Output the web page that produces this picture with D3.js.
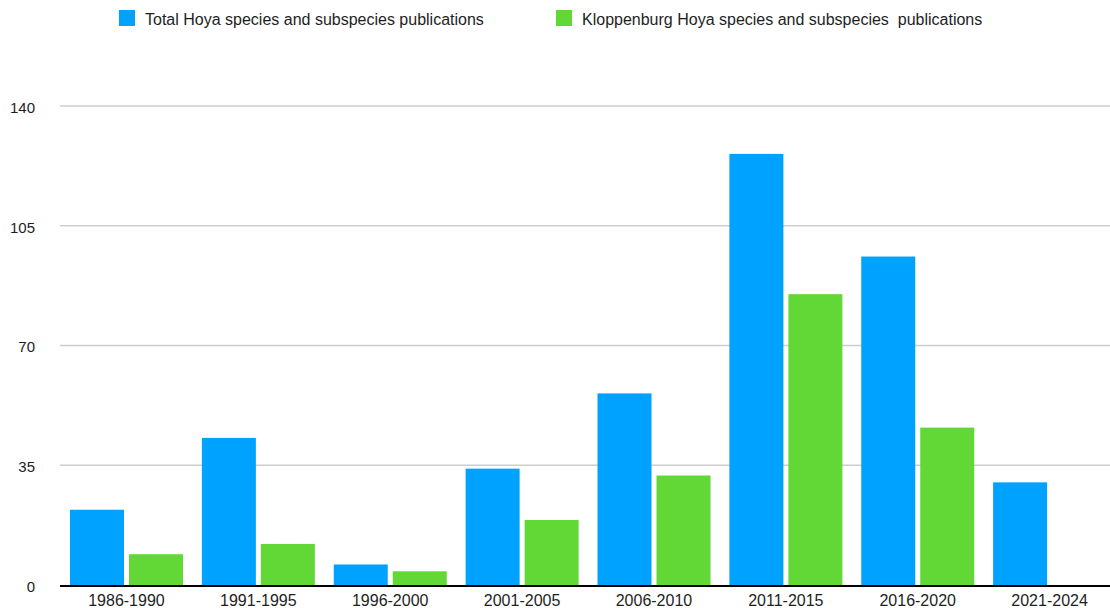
<!DOCTYPE html>
<html>
<head>
<meta charset="utf-8">
<script src="https://cdn.jsdelivr.net/npm/d3@7"></script>
<style>
  html, body { margin: 0; padding: 0; background: #fff; }
  svg { display: block; font-family: "Liberation Sans", Arial, Helvetica, sans-serif; }
  text { white-space: pre; }
</style>
</head>
<body>
<svg id="chart" width="1110" height="608"></svg>
<script>
const categories = ["1986-1990", "1991-1995", "1996-2000", "2001-2005", "2006-2010", "2011-2015", "2016-2020", "2021-2024"];
const seriesNames = ["Total Hoya species and subspecies publications", "Kloppenburg Hoya species and subspecies  publications"];
const totalValues = [22, 43, 6, 34, 56, 126, 96, 30];
const kloppenburgValues = [9, 12, 4, 19, 32, 85, 46, 0];
const yTicks = [0, 35, 70, 105, 140];
const colors = ["#00A2FF", "#61D836"];

const svg = d3.select("#chart");
const W = 1110, H = 608;
const plot = { left: 60.5, right: 1115.5, top: 106, bottom: 585 };

const y = d3.scaleLinear().domain([0, 140]).range([plot.bottom, plot.top]);
const x0 = d3.scaleBand().domain(categories).range([plot.left, plot.right]).paddingInner(0).paddingOuter(0);
const x1 = d3.scaleBand().domain([0, 1]).range([9.5, 9.5 + 113]).paddingInner(5 / 59).paddingOuter(0);

// gridlines
const grid = svg.append("g");
grid.selectAll("line").data(yTicks.filter(d => d > 0)).join("line")
  .attr("x1", 60).attr("x2", W)
  .attr("y1", d => y(d)).attr("y2", d => y(d))
  .attr("stroke", "#cecece").attr("stroke-width", 1.5);

// y axis labels via d3 axis
const yAxis = d3.axisLeft(y).tickValues(yTicks).tickSize(0).tickPadding(0);
const yG = svg.append("g").attr("transform", "translate(35,1)").call(yAxis);
yG.select(".domain").remove();
yG.selectAll("text").attr("font-size", 15).attr("fill", "#1e1e1e")
  .attr("font-family", "Liberation Sans, Arial, sans-serif").attr("dy", "0.35em").attr("x", 0);

// bars
const data = categories.map((c, i) => ({ cat: c, vals: [totalValues[i], kloppenburgValues[i]] }));
const groups = svg.append("g").selectAll("g").data(data).join("g")
  .attr("transform", d => `translate(${x0(d.cat)},0)`);
groups.selectAll("rect").data(d => d.vals.map((v, k) => ({ v, k }))).join("rect")
  .attr("x", d => x1(d.k))
  .attr("width", x1.bandwidth())
  .attr("y", d => y(d.v))
  .attr("height", d => y(0) - y(d.v))
  .attr("fill", d => colors[d.k]);

// zero axis line
svg.append("line").attr("x1", 60).attr("x2", W)
  .attr("y1", y(0) + 1).attr("y2", y(0) + 1)
  .attr("stroke", "#000").attr("stroke-width", 2);

// x axis labels
const xAxis = d3.axisBottom(x0).tickSize(0).tickPadding(0);
const xG = svg.append("g").attr("transform", `translate(0,${y(0)})`).call(xAxis);
xG.select(".domain").remove();
xG.selectAll("text").attr("font-size", 16).attr("fill", "#1e1e1e")
  .attr("font-family", "Liberation Sans, Arial, sans-serif").attr("dy", null).attr("y", 21);

// legend
const legendX = [119, 556];
const legend = svg.append("g");
seriesNames.forEach((name, i) => {
  legend.append("rect").attr("x", legendX[i]).attr("y", 10).attr("width", 16).attr("height", 16).attr("fill", colors[i]);
  legend.append("text").attr("x", legendX[i] + 26).attr("y", 25)
    .attr("font-size", 16).attr("fill", "#1e1e1e").text(name);
});
</script>
</body>
</html>
